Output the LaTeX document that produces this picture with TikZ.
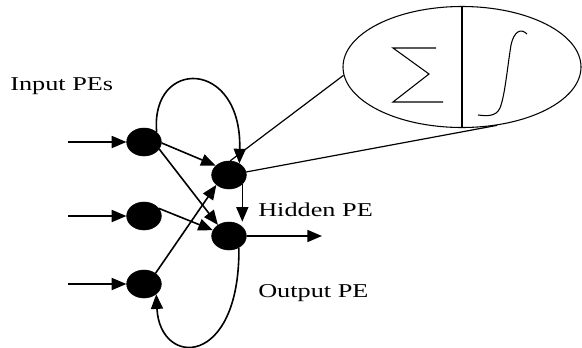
\documentclass[tikz,border=0pt]{standalone}
\usepackage{fontspec}
\setmainfont{Liberation Serif}
\usepackage{graphicx}
\usetikzlibrary{shapes.geometric,arrows.meta}
\begin{document}
\begin{tikzpicture}[x=0.75pt,y=-0.75pt,
  pe/.style={ellipse,fill=black,draw=black,minimum width=26pt,minimum height=21pt,inner sep=0pt},
  arr/.style={line width=1.2pt,-{Triangle[length=11pt,width=9pt]}},
  ln/.style={line width=0.9pt},
  thin line/.style={line width=0.8pt},
  lbl/.style={font=\fontsize{14.7}{17}\selectfont,inner sep=0pt}]
\useasboundingbox (0,0) rectangle (582,347);
% processing elements
\node[pe] (I1) at (144,142) {};
\node[pe] (I2) at (144,216) {};
\node[pe] (I3) at (144,284) {};
\node[pe] (H) at (229,175) {};
\node[pe] (O) at (229,236) {};
% inputs
\coordinate (a1) at (68,142);
\coordinate (a2) at (68,216);
\coordinate (a3) at (68,284);
\draw[arr] (a1) -- (I1);
\draw[arr] (a2) -- (I2);
\draw[arr] (a3) -- (I3);
% internal connections
\draw[arr] (I1.-3) -- (H.145);
\draw[arr] (I1.-25) -- (O.135);
\draw[arr] (I2.27) -- (O.160);
\draw[arr] (I3.43) -- (H.-142);
\draw[arr] (H.-35) -- (H.-35 |- O.north);
\draw[arr] (I1.38) .. controls (150,58) and (242,58) .. (H.48);
\draw[arr] (O.-50) .. controls (240,368) and (160,368) .. (I3.-40);
% output
\coordinate (out) at (322,236);
\draw[arr] (O) -- (out);
% magnified PE
\node[draw,ellipse,thin line,minimum width=178.5pt,minimum height=90.75pt,inner sep=0pt] (E) at (462,67) {};
\draw[ln] (E.north) -- (E.south);
\draw[ln] (H.85) -- (E.184);
\draw[ln] (H.10) -- (E.-59);
% summation sign
\draw[thin line] (436,48) -- (393,48) -- (429,74) -- (393,102) -- (443,102);
% integral / sigmoid sign
\draw[thin line] (527,34) .. controls (521,28) and (514,31) .. (511,45)
  .. controls (507,70) and (505,95) .. (500,108)
  .. controls (496,117) and (486,116) .. (478,115);
% labels
\node[lbl,anchor=base west] (tin) at (10,90) {\scalebox{1.34}[1]{Input PEs}};
\node[lbl,anchor=base west] (thid) at (258,216) {\scalebox{1.34}[1]{Hidden PE}};
\node[lbl,anchor=base west] (tout) at (258,297) {\scalebox{1.34}[1]{Output PE}};
\end{tikzpicture}
\end{document}
